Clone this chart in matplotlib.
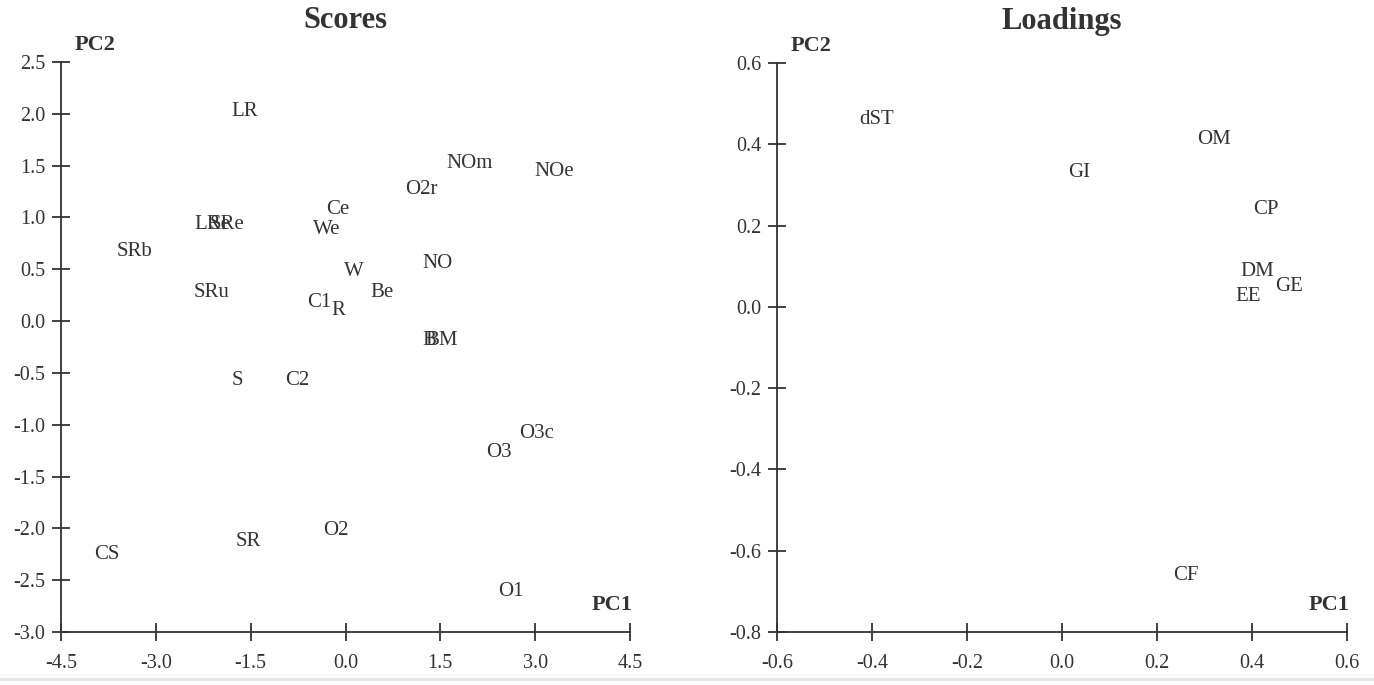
import matplotlib
matplotlib.use("Agg")
import matplotlib.pyplot as plt
from matplotlib.lines import Line2D

plt.rcParams['font.family'] = ['Liberation Serif', 'DejaVu Serif']

# Scores
score_labels = ["LR", "NOm", "NOe", "O2r", "Ce", "We", "LRe", "SRe", "SRb", "SRu",
                "W", "NO", "Be", "C1", "R", "B", "BM", "S", "C2", "O3c", "O3",
                "O2", "SR", "CS", "O1"]
score_pc1 = [-1.60, 1.96, 3.30, 1.20, -0.13, -0.30, -2.10, -1.88, -3.33, -2.12,
             0.14, 1.45, 0.57, -0.41, -0.11, 1.33, 1.52, -1.71, -0.77, 3.02, 2.43,
             -0.16, -1.53, -3.78, 2.61]
score_pc2 = [2.02, 1.525, 1.44, 1.27, 1.08, 0.88, 0.93, 0.93, 0.67, 0.28,
             0.48, 0.56, 0.28, 0.18, 0.106, -0.19, -0.19, -0.57, -0.57, -1.08, -1.27,
             -2.02, -2.13, -2.25, -2.61]

# Loadings
load_labels = ["dST", "OM", "GI", "CP", "DM", "GE", "EE", "CF"]
load_pc1 = [-0.391, 0.319, 0.036, 0.43, 0.411, 0.477, 0.392, 0.26]
load_pc2 = [0.46, 0.413, 0.33, 0.239, 0.086, 0.049, 0.025, -0.66]

score_xticks = [-4.5, -3.0, -1.5, 0.0, 1.5, 3.0, 4.5]
score_yticks = [-3.0, -2.5, -2.0, -1.5, -1.0, -0.5, 0.0, 0.5, 1.0, 1.5, 2.0, 2.5]
load_xticks = [-0.6, -0.4, -0.2, 0.0, 0.2, 0.4, 0.6]
load_yticks = [-0.8, -0.6, -0.4, -0.2, 0.0, 0.2, 0.4, 0.6]

TXT = "#333333"

fig = plt.figure(figsize=(13.74, 6.85), dpi=100)
ax1 = fig.add_axes([61/1374, 1-632/685, (630-61)/1374, (632-62)/685])
ax2 = fig.add_axes([777/1374, 1-632/685, (1347-777)/1374, (632-63)/685])


def style(ax, xt, yt, title):
    for s in ("top", "right"):
        ax.spines[s].set_visible(False)
    for s in ("left", "bottom"):
        ax.spines[s].set_color(TXT)
        ax.spines[s].set_linewidth(1.3)
    ax.set_xticks(xt)
    ax.set_yticks(yt)
    ax.set_xticklabels([f"{v:.1f}" for v in xt])
    ax.set_yticklabels([f"{v:.1f}" for v in yt])
    ax.set_xlim(xt[0], xt[-1])
    ax.set_ylim(yt[0], yt[-1])
    ax.tick_params(direction="inout", length=13, width=1.3, colors=TXT,
                   labelsize=14.5, labelcolor=TXT)
    ax.tick_params(axis="x", pad=9)
    ax.tick_params(axis="y", pad=5)
    ax.text(0.5, 1.073, title, transform=ax.transAxes, ha="center", va="center",
            fontsize=22, fontweight="bold", color=TXT)
    ax.text(0.06, 1.03, "PC2", transform=ax.transAxes, ha="center", va="center",
            fontsize=16, fontweight="bold", color=TXT)
    ax.text(0.968, 0.047, "PC1", transform=ax.transAxes, ha="center", va="center",
            fontsize=16, fontweight="bold", color=TXT)
    ax.patch.set_visible(False)


style(ax1, score_xticks, score_yticks, "Scores")
style(ax2, load_xticks, load_yticks, "Loadings")

for lab, x, y in zip(score_labels, score_pc1, score_pc2):
    ax1.text(x, y, lab, ha="center", va="center", fontsize=15, color=TXT, clip_on=False)
for lab, x, y in zip(load_labels, load_pc1, load_pc2):
    ax2.text(x, y, lab, ha="center", va="center", fontsize=15, color=TXT, clip_on=False)

fig.add_artist(Line2D([0, 1], [1-679/685, 1-679/685], color="#e6e6e6", lw=2,
                      transform=fig.transFigure))

fig.savefig("out.png", dpi=100)
